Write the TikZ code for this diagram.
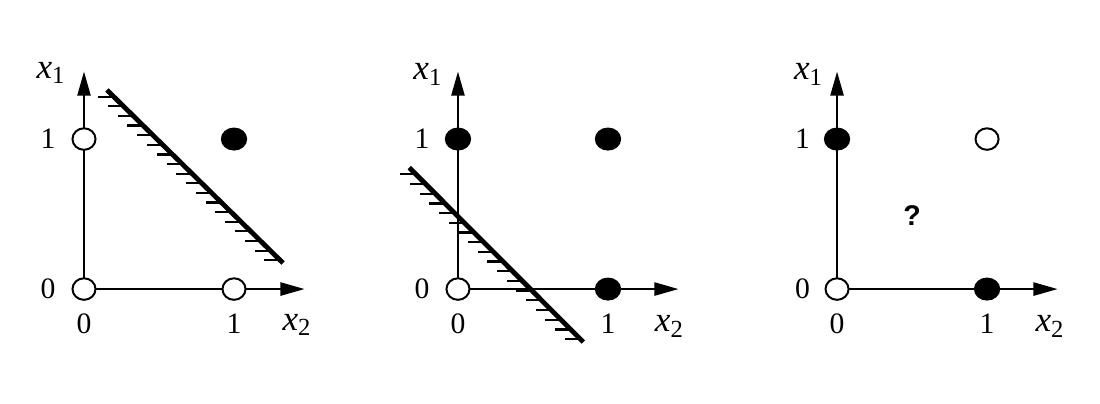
\documentclass[tikz,border=0pt]{standalone}
\usepackage{fontspec}
\setmainfont{Liberation Serif}
\newfontfamily\qfont{Liberation Sans}
\usetikzlibrary{arrows.meta,shapes.geometric,calc}
\begin{document}
\begin{tikzpicture}[x=2.4cm,y=2.4cm,
  axis/.style={line width=0.9pt,-{Triangle[length=11pt,width=6pt]}},
  opendot/.style={ellipse,draw,line width=0.9pt,fill=white,minimum width=10.5pt,minimum height=9.8pt,inner sep=0pt},
  fulldot/.style={ellipse,fill=black,minimum width=12pt,minimum height=10.5pt,inner sep=0pt},
  cut/.style={line width=2.2pt},
  hatch/.style={line width=1pt},
  lbl/.style={font=\fontsize{13.5}{15}\selectfont},
  varlbl/.style={font=\fontsize{16}{18}\selectfont}]
\useasboundingbox (0,0) rectangle (7.333,2.687);

% left: AND
\begin{scope}[shift={(0.56,0.76)}]
\coordinate (o1) at (0,0);
\coordinate (h1) at (1.47,0);
\coordinate (v1) at (0,1.45);
\draw[axis] (o1) -- (h1);
\draw[axis] (o1) -- (v1);
\coordinate (c1a) at (0.153,1.327);
\coordinate (c1b) at (1.327,0.173);
\foreach \k [evaluate=\k as \t using (\k+0.7)/18] in {0,...,17}
  \draw[hatch] ($(c1a)!\t!(c1b)$) -- ++(-0.105,0);
\draw[cut] (c1a) -- (c1b);
\node[opendot] (p00a) at (0,0) {};
\node[opendot] (p10a) at (1,0) {};
\node[opendot] (p01a) at (0,1) {};
\node[fulldot] (p11a) at (1,1) {};
\node[varlbl] (x1a) at (-0.22,1.44) {\textit{x}\textsubscript{1}};
\node[varlbl] (x2a) at (1.42,-0.24) {\textit{x}\textsubscript{2}};
\node[lbl] (l0a) at (-0.24,0) {0};
\node[lbl] (l1a) at (-0.24,1) {1};
\node[lbl] (b0a) at (0,-0.23) {0};
\node[lbl] (b1a) at (1,-0.23) {1};
\end{scope}

% middle: OR
\begin{scope}[shift={(3.053,0.76)}]
\coordinate (o2) at (0,0);
\coordinate (h2) at (1.47,0);
\coordinate (v2) at (0,1.45);
\draw[axis] (o2) -- (h2);
\draw[axis] (o2) -- (v2);
\coordinate (c2a) at (-0.325,0.81);
\coordinate (c2b) at (0.835,-0.353);
\foreach \k [evaluate=\k as \t using (\k+0.7)/18] in {0,...,17}
  \draw[hatch] ($(c2a)!\t!(c2b)$) -- ++(-0.105,0);
\draw[cut] (c2a) -- (c2b);
\node[opendot] (p00b) at (0,0) {};
\node[fulldot] (p10b) at (1,0) {};
\node[fulldot] (p01b) at (0,1) {};
\node[fulldot] (p11b) at (1,1) {};
\node[varlbl] (x1b) at (-0.2,1.43) {\textit{x}\textsubscript{1}};
\node[varlbl] (x2b) at (1.41,-0.25) {\textit{x}\textsubscript{2}};
\node[lbl] (l0b) at (-0.24,0) {0};
\node[lbl] (l1b) at (-0.24,1) {1};
\node[lbl] (b0b) at (0,-0.23) {0};
\node[lbl] (b1b) at (1,-0.23) {1};
\end{scope}

% right: XOR
\begin{scope}[shift={(5.58,0.76)}]
\coordinate (o3) at (0,0);
\coordinate (h3) at (1.47,0);
\coordinate (v3) at (0,1.45);
\draw[axis] (o3) -- (h3);
\draw[axis] (o3) -- (v3);
\node[opendot] (p00c) at (0,0) {};
\node[fulldot] (p10c) at (1,0) {};
\node[fulldot] (p01c) at (0,1) {};
\node[opendot] (p11c) at (1,1) {};
\node[font=\fontsize{13}{15}\qfont\bfseries] (qc) at (0.5,0.49) {?};
\node[varlbl] (x1c) at (-0.19,1.43) {\textit{x}\textsubscript{1}};
\node[varlbl] (x2c) at (1.42,-0.25) {\textit{x}\textsubscript{2}};
\node[lbl] (l0c) at (-0.23,0) {0};
\node[lbl] (l1c) at (-0.23,1) {1};
\node[lbl] (b0c) at (0,-0.23) {0};
\node[lbl] (b1c) at (1,-0.23) {1};
\end{scope}
\end{tikzpicture}
\end{document}
